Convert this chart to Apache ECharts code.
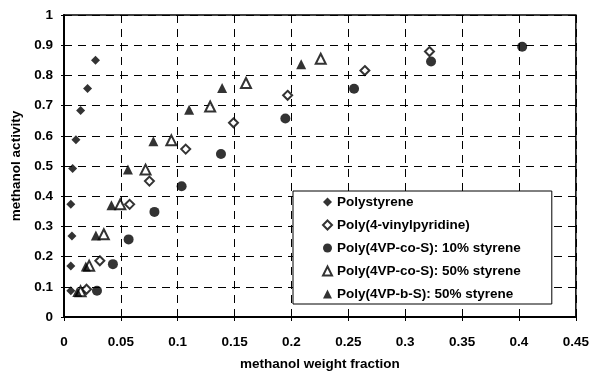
<!DOCTYPE html>
<html>
<head>
<meta charset="utf-8">
<script src="https://cdn.jsdelivr.net/npm/echarts@6/dist/echarts.min.js"></script>
<style>html,body{margin:0;padding:0;background:#fff}#c{width:592px;height:376px}</style>
</head>
<body>
<div id="c"></div>
<script>
var xTicks = {min: 0, max: 0.45, interval: 0.05};
var yTicks = {min: 0, max: 1, interval: 0.1};
var seriesNames = ['Polystyrene', 'Poly(4-vinylpyridine)', 'Poly(4VP-co-S): 10% styrene', 'Poly(4VP-co-S): 50% styrene', 'Poly(4VP-b-S): 50% styrene'];
var polystyrene = [[0.006,0.087],[0.006,0.169],[0.007,0.268],[0.006,0.373],[0.0076,0.492],[0.0105,0.587],[0.0146,0.684],[0.0207,0.757],[0.0277,0.850]];
var p4vp = [[0.0198,0.092],[0.0315,0.186],[0.0577,0.373],[0.0751,0.45],[0.107,0.556],[0.149,0.643],[0.1966,0.734],[0.2645,0.816],[0.3213,0.879]];
var co10 = [[0.029,0.087],[0.043,0.175],[0.0568,0.257],[0.0795,0.348],[0.1034,0.433],[0.138,0.540],[0.1946,0.657],[0.255,0.756],[0.3227,0.846],[0.4028,0.895]];
var co50 = [[0.0146,0.085],[0.0221,0.17],[0.035,0.274],[0.0495,0.373],[0.0717,0.488],[0.0944,0.585],[0.1285,0.697],[0.160,0.775],[0.2257,0.855]];
var b50 = [[0.0117,0.083],[0.0192,0.167],[0.028,0.27],[0.0417,0.37],[0.0562,0.488],[0.0786,0.582],[0.110,0.686],[0.139,0.758],[0.2085,0.837]];

var font = 'Liberation Sans, Arial, sans-serif';
var fs = 13.5;
var filled = {color:'#000', borderColor:'#000', borderWidth:0};
var hollow = {color:'#fff', borderColor:'#000', borderWidth:2};

function mk(name, data, symbol, size, style){
  return {name:name, type:'scatter', data:data, symbol:symbol, symbolSize:size, itemStyle:style, z:3};
}
function gridLine(){ return {show:true, lineStyle:{color:'#000', width:1, type:[8,6]}}; }

var chart = echarts.init(document.getElementById('c'), null, {renderer:'canvas'});
chart.setOption({
  animation:false,
  backgroundColor:'#fff',
  textStyle:{fontFamily:font},
  grid:{left:64, right:14, top:15, bottom:58, show:true, borderColor:'#000', borderWidth:1.5},
  xAxis:{
    type:'value', min:xTicks.min, max:xTicks.max, interval:xTicks.interval,
    name:'methanol weight fraction', nameLocation:'middle', nameGap:40,
    nameTextStyle:{fontFamily:font, fontWeight:'bold', fontSize:fs, color:'#000'},
    axisLine:{show:true, lineStyle:{color:'#000', width:2}},
    axisTick:{show:true, length:4, lineStyle:{color:'#000'}},
    axisLabel:{fontFamily:font, fontWeight:'bold', fontSize:fs, color:'#000', margin:18,
      formatter:function(v){return String(+v.toFixed(2));}},
    splitLine:gridLine()
  },
  yAxis:{
    type:'value', min:yTicks.min, max:yTicks.max, interval:yTicks.interval,
    name:'methanol activity', nameLocation:'middle', nameGap:40,
    nameTextStyle:{fontFamily:font, fontWeight:'bold', fontSize:fs, color:'#000'},
    axisLine:{show:true, lineStyle:{color:'#000', width:2}},
    axisTick:{show:true, length:3, lineStyle:{color:'#000'}},
    axisLabel:{fontFamily:font, fontWeight:'bold', fontSize:fs, color:'#000', margin:11,
      formatter:function(v){return String(+v.toFixed(1));}},
    splitLine:gridLine()
  },
  legend:{
    orient:'vertical', left:293, top:191,
    backgroundColor:'#fff', borderColor:'#000', borderWidth:1,
    padding:[4,31,3,29], itemGap:9, itemWidth:9, itemHeight:9,
    textStyle:{fontFamily:font, fontWeight:'bold', fontSize:fs, color:'#000'},
    data:seriesNames
  },
  series:[
    mk(seriesNames[0], polystyrene, 'diamond', 9, filled),
    mk(seriesNames[1], p4vp, 'diamond', 9, hollow),
    mk(seriesNames[2], co10, 'circle', 10, filled),
    mk(seriesNames[3], co50, 'triangle', 10, hollow),
    mk(seriesNames[4], b50, 'triangle', 10, filled)
  ]
});
</script>
</body>
</html>
